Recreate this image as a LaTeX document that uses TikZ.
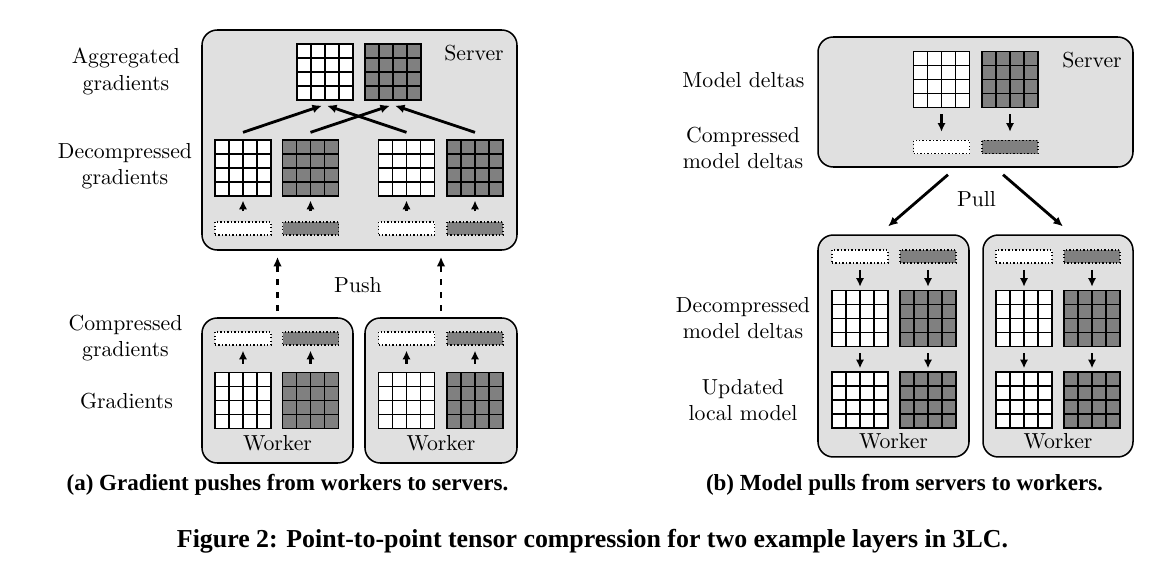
\documentclass[tikz,border=0pt]{standalone}
\usepackage{fontspec}
\newfontfamily\capfont{Liberation Serif}
\usetikzlibrary{arrows.meta,calc}
\definecolor{boxgray}{gray}{0.88}
\definecolor{cellgray}{gray}{0.5}

\begin{document}
\begin{tikzpicture}[
  x=0.46pt, y=-0.46pt,
  box/.style={draw, line width=0.7pt, fill=boxgray, rounded corners=7pt,
              inner sep=0pt},
  tensor/.style={draw, line width=0.6pt, minimum size=25.76pt, inner sep=0pt,
    path picture={\foreach \kk in {1,2,3}{%
      \draw[line width=0.6pt]
        ($(path picture bounding box.south west)!\kk/4!(path picture bounding box.south east)$)
        -- ($(path picture bounding box.north west)!\kk/4!(path picture bounding box.north east)$);
      \draw[line width=0.6pt]
        ($(path picture bounding box.south west)!\kk/4!(path picture bounding box.north west)$)
        -- ($(path picture bounding box.south east)!\kk/4!(path picture bounding box.north east)$);}}},
  packed/.style={draw, densely dotted, line width=0.6pt, minimum width=25.76pt,
                 minimum height=6pt, inner sep=0pt},
  flow/.style={line width=1.3pt, -{Latex[length=4.4pt, width=4pt]}},
  hop/.style={line width=1.3pt, -{Latex[length=4pt, width=3.8pt]}},
  push/.style={flow, dashed},
  lab/.style={align=center, inner sep=0pt},
  legend/.style={font=\capfont\bfseries\fontsize{10.6pt}{12pt}\selectfont,
                 inner sep=0pt},
  figlegend/.style={font=\capfont\bfseries\fontsize{11.9pt}{14pt}\selectfont,
                    inner sep=0pt}]
\useasboundingbox (0,0) rectangle (1163,572);

% ======================= (a) left: the push ============================
\node[box, minimum width=144.9pt, minimum height=101.2pt] (srvA) at (359.5,140) {};
\node (srvAname) at (474,53) {Server};
\node[tensor, fill=white]    (aggA1) at (325,72) {};
\node[tensor, fill=cellgray] (aggA2) at (393,72) {};
\foreach \xx/\cc [count=\ii] in {243/white,310.5/cellgray,406.5/white,475/cellgray}{%
  \node[tensor, fill=\cc] (decA\ii) at (\xx,168) {};
  \node[packed, fill=\cc] (cmpA\ii) at (\xx,228.5) {};
  \draw[hop, shorten <=4.6pt, shorten >=1.8pt] (cmpA\ii) -- (decA\ii);}
% the crossing sums
\draw[flow] ($(decA1.north)+(0,-7)$) -- ($(aggA1.south)+(-3,5)$);
\draw[flow] ($(decA2.north)+(0,-7)$) -- ($(aggA2.south)+(-3,5)$);
\draw[flow] ($(decA3.north)+(0,-7)$) -- ($(aggA1.south)+(2,5)$);
\draw[flow] ($(decA4.north)+(0,-7)$) -- ($(aggA2.south)+(2,5)$);

% workers
\node[box, minimum width=69.46pt, minimum height=66.7pt] (wkA1) at (277.5,390.5) {};
\node[box, minimum width=69.92pt, minimum height=66.7pt] (wkA2) at (441,390.5) {};
\node (wkA1name) at (277.5,443) {Worker};
\node (wkA2name) at (441,443) {Worker};
\foreach \xx/\cc [count=\ii] in {243/white,310.5/cellgray,406.5/white,475/cellgray}{%
  \node[packed, fill=\cc] (sendA\ii) at (\xx,338.5) {};
  \node[tensor, fill=\cc] (gradA\ii) at (\xx,400.5) {};
  \draw[hop, shorten <=3.7pt, shorten >=2.3pt] (gradA\ii) -- (sendA\ii);}
\draw[push, shorten <=2.8pt, shorten >=2.8pt] (wkA1.north) -- (wkA1.north |- srvA.south);
\draw[push, shorten <=2.8pt, shorten >=2.8pt] (wkA2.north) -- (wkA2.north |- srvA.south);
\node (pushtag) at (358,285) {Push};

% row labels
\node[lab] (tagAgg)  at (126,71.5)  {Aggregated\\gradients};
\node[lab] (tagDec)  at (125,166.5) {Decompressed\\gradients};
\node[lab] (tagCmp)  at (125.5,338) {Compressed\\gradients};
\node[lab] (tagGrad) at (126.5,401) {Gradients};
\node[legend] (capA) at (287.5,485) {(a) Gradient pushes from workers to servers.};

% ======================= (b) right: the pull ===========================
\node[box, minimum width=144.9pt, minimum height=59.8pt] (srvB) at (975.5,102) {};
\node (srvBname) at (1092,60) {Server};
\foreach \xx/\cc [count=\ii] in {941.5/white,1010/cellgray}{%
  \node[tensor, fill=\cc] (mdlB\ii) at (\xx,79.5) {};
  \node[packed, fill=\cc] (outB\ii) at (\xx,147) {};
  \draw[hop, shorten <=2.8pt, shorten >=3.7pt] (mdlB\ii) -- (outB\ii);}

% workers
\node[box, minimum width=69.46pt, minimum height=102.1pt] (wkB1) at (893.5,346) {};
\node[box, minimum width=69pt, minimum height=102.1pt]    (wkB2) at (1058,346) {};
\node (wkB1name) at (893.5,441) {Worker};
\node (wkB2name) at (1058,441) {Worker};
\foreach \xx/\cc [count=\ii] in {860/white,928/cellgray,1024/white,1092/cellgray}{%
  \node[packed, fill=\cc] (recvB\ii) at (\xx,256.5) {};
  \node[tensor, fill=\cc] (deltB\ii) at (\xx,318.5) {};
  \node[tensor, fill=\cc] (locB\ii)  at (\xx,400) {};
  \draw[hop, shorten <=2.8pt, shorten >=1.4pt] (recvB\ii) -- (deltB\ii);
  \draw[hop, shorten <=2.8pt, shorten >=1.4pt] (deltB\ii) -- (locB\ii);}
\draw[flow, shorten <=4.9pt, shorten >=5.5pt]
  ($(srvB.south)+(-19.5,0)$) -- ($(wkB1.north)+(-14.5,0)$);
\draw[flow, shorten <=4.9pt, shorten >=5.5pt]
  ($(srvB.south)+(19.5,0)$) -- ($(wkB2.north)+(14,0)$);
\node (pulltag) at (976.5,199) {Pull};

% row labels
\node[lab] (tagMdl) at (743.5,80)  {Model deltas};
\node[lab] (tagOut) at (743,148)   {Compressed\\model deltas};
\node[lab] (tagDlt) at (743,318)   {Decompressed\\model deltas};
\node[lab] (tagLoc) at (743,400)   {Updated\\local model};
\node[legend] (capB) at (904.5,485) {(b) Model pulls from servers to workers.};

% ============================== footer =================================
\node[figlegend] (capFig) at (592.5,541)
  {Figure 2: Point-to-point tensor compression for two example layers in 3LC.};
\end{tikzpicture}
\end{document}
